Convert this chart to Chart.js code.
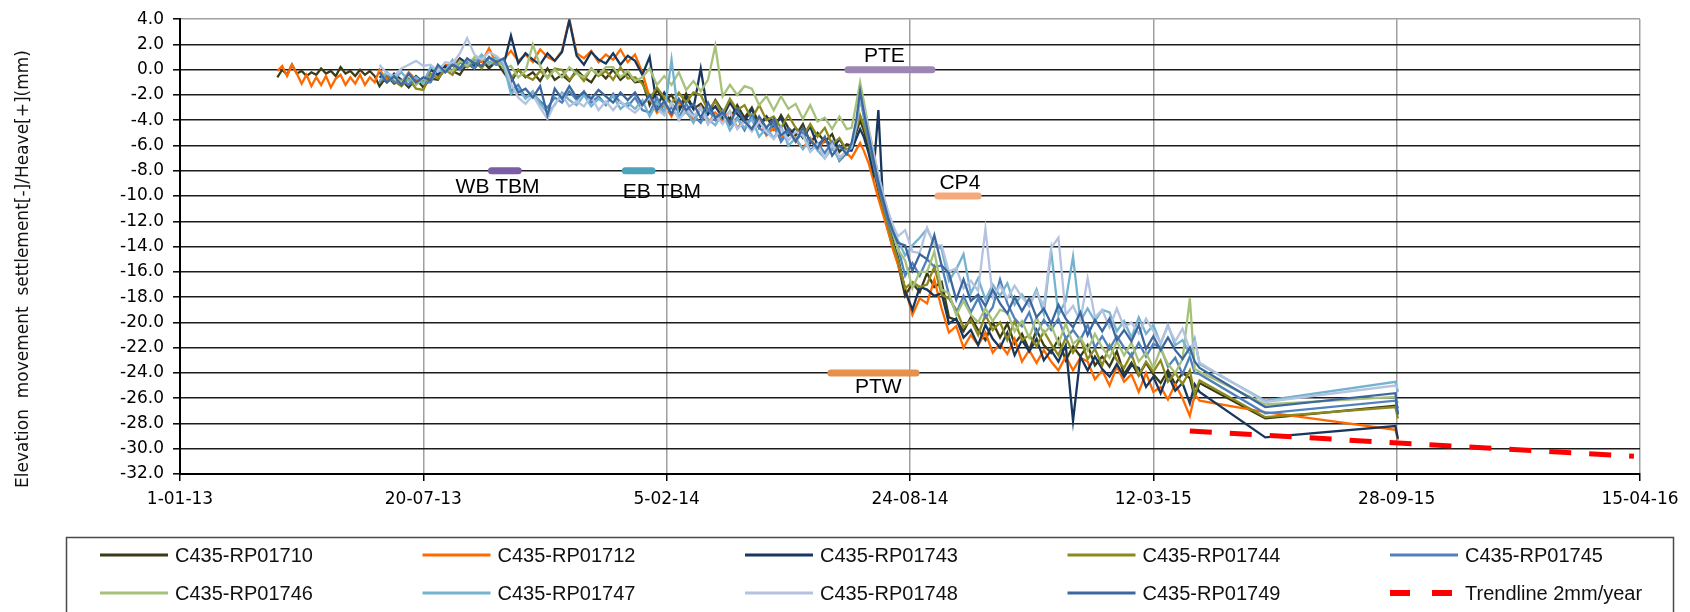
<!DOCTYPE html>
<html>
<head>
<meta charset="utf-8">
<script src="https://cdn.jsdelivr.net/npm/chart.js@4"></script>
<style>
  body { margin: 0; background: #fff; }
  #wrap { width: 1690px; height: 612px; }
</style>
</head>
<body>
<div id="wrap"><canvas id="grafico" width="1690" height="612"></canvas></div>
<script>
// x values are days since 1-01-13
const earlyDays = [80, 84, 88, 92, 96, 100, 104, 108, 112, 116, 120, 124, 128, 132, 136, 140, 144, 148, 152, 156, 160];
const early1710 = [-0.6, 0.0, -0.4, 0.4, -0.3, -0.1, -0.5, -0.2, -0.4, 0.1, -0.3, -0.1, -0.5, 0.2, -0.3, -0.1, -0.5, 0.0, -0.4, -0.1, -0.5];
const early1712 = [-0.1, 0.3, -0.5, 0.4, -0.3, -1.1, -0.4, -1.3, -0.6, -1.2, -0.5, -1.4, -0.7, -0.4, -1.2, -0.6, -1.1, -0.4, -1.2, -0.6, -1.0];

const days = [
  164, 170, 176, 182, 188, 194, 200, 206, 212, 218, 224, 230, 236, 242, 248, 254, 260, 266,
  272, 278, 284, 290, 296, 302, 308, 314, 320, 326, 332, 338, 344, 350, 356, 362, 368, 374, 380,
  386, 392, 398, 404, 410, 416, 422, 428, 434, 440, 446, 452, 458, 464, 470, 476, 482, 488, 494, 500, 506, 512, 518, 524, 530, 536, 542, 548,
  552, 556, 559, 562, 566, 570, 574, 578, 582, 586, 590,
  596, 602, 608, 614, 620, 626, 632, 638, 644, 650, 656, 662, 668, 674, 680, 686, 692, 698, 704, 710, 716, 722, 728, 734, 740, 746, 752, 758, 764, 770, 776, 782, 788, 794, 800, 806, 812, 818, 824, 830, 834, 838,
  892, 999, 1001
];

const v1710 = [
  -1.3, -0.5, -1.1, -0.8, -1.4, -0.7, -1.4, -0.7, -0.8, 0.2, -0.1, -0.4, 0.5, 0.1, 0.8, 0.1, 0.7, -0.2,
  -1.0, 0.0, -0.6, -0.2, -0.9, 0.1, -0.8, -0.4, -0.9, 0.0, -0.6, -1.0, -0.1, -0.7, 0.0, -0.8, -0.3, -1.0, -0.9,
  -2.8, -1.6, -2.5, -2.0, -3.1, -1.9, -3.1, -2.7, -3.5, -2.4, -3.3, -3.9, -2.8, -3.8, -3.0, -4.3, -3.7, -4.7, -3.6, -4.6, -5.2, -4.3, -5.8, -5.0, -5.7, -5.1, -6.5, -5.9,
  -6.0, -4.9, -4.0, -4.8, -6.1, -7.8, -9.6, -11.2, -12.7, -14.1, -15.3,
  -17.9, -16.9, -17.6, -16.1, -17.2, -16.8, -19.6, -19.8, -20.7, -19.6, -20.6, -21.4, -20.0, -21.2, -20.1, -21.7, -20.9, -22.2, -20.6, -21.8, -22.4, -21.3, -23.0, -21.9, -22.7, -21.8, -23.4, -22.7, -23.5, -22.3, -24.1, -23.2, -24.2, -23.2, -24.1, -24.8, -23.8, -24.9, -24.0, -24.4, -25.9, -24.8,
  -27.6, -26.6, -27.2
];
const v1712 = [
  0.0, -0.8, -0.4, -1.0, -0.2, -0.8, -1.0, 0.1, -0.5, 0.4, 0.3, 0.9, 0.3, 0.8, 0.6, 1.7, 0.5, 0.8,
  1.5, 0.7, 1.2, 0.6, 1.6, 1.0, 0.7, 1.5, 4.0, 1.3, 0.9, 1.5, 0.6, 1.2, 0.8, 1.6, 0.6, 1.2, -0.2,
  -2.2, -3.4, -2.8, -3.7, -2.5, -3.4, -3.9, -2.9, -4.3, -3.4, -4.0, -3.3, -4.6, -4.0, -4.7, -3.8, -5.2, -4.6, -5.5, -4.7, -5.6, -6.2, -5.4, -6.3, -5.6, -5.9, -7.2, -6.6,
  -7.0, -6.3, -5.8, -6.4, -7.4, -8.8, -10.2, -11.5, -12.8, -14.2, -15.4,
  -17.3, -19.4, -18.1, -18.5, -16.6, -18.9, -20.8, -20.3, -22.0, -21.0, -21.8, -20.8, -22.4, -21.7, -22.5, -21.3, -23.1, -22.2, -23.2, -22.2, -23.1, -23.8, -22.7, -23.8, -22.8, -23.1, -24.5, -23.8, -25.0, -23.5, -24.7, -24.1, -25.5, -24.0, -25.5, -25.1, -26.1, -24.9, -26.0, -27.4, -25.7, -26.2,
  -27.1, -28.5, -29.3
];
const v1743 = [
  -0.5, -1.0, -0.3, -0.8, -1.2, -0.5, -1.0, 0.0, -0.4, 0.3, -0.1, 0.9, 0.5, 0.3, 1.1, 0.3, 1.0, 0.4,
  2.7, 0.5, 1.3, 0.8, 0.4, 1.3, 0.7, 1.4, 3.9, 1.1, 0.4, 1.4, 0.8, 0.5, 1.3, 0.4, 1.1, 0.7, -0.4,
  1.0, -2.9, -1.8, -2.7, -3.3, -2.2, -3.1, 0.1, -3.5, -2.9, -3.8, -2.6, -3.5, -4.1, -3.1, -4.6, -3.7, -4.4, -3.8, -5.2, -4.6, -5.4, -4.5, -6.0, -5.4, -6.3, -5.5, -6.4,
  -6.4, -5.4, -4.7, -5.3, -6.6, -8.2, -3.2, -10.8, -12.2, -13.6, -14.8,
  -17.5, -19.0, -17.2, -17.4, -17.9, -17.7, -20.1, -19.7, -21.2, -20.6, -21.8, -20.2, -21.3, -22.0, -20.8, -22.6, -21.4, -22.3, -21.3, -23.0, -22.2, -23.1, -21.8, -27.8, -22.7, -23.8, -22.7, -23.7, -24.3, -23.3, -24.3, -23.4, -23.6, -25.1, -24.3, -25.6, -24.1, -25.4, -24.8, -26.4, -24.9, -25.5,
  -29.1, -28.2, -29.2
];
const v1744 = [
  -1.0, -0.5, -0.9, -1.3, -0.7, -1.5, -1.6, -0.3, -0.7, 0.0, -0.4, 0.6, 0.2, 0.7, 0.1, 1.0, 0.4, 0.4,
  -0.7, 0.0, -0.5, -0.8, -0.1, -0.6, 0.1, 0.0, -0.8, -0.2, -0.9, 0.1, -0.5, -0.1, -0.8, 0.2, -0.7, -0.6, -1.1,
  -2.3, -1.4, -2.2, -2.7, -1.8, -2.6, -1.8, -2.0, -3.2, -2.5, -3.5, -2.3, -3.2, -2.8, -3.9, -2.8, -4.0, -3.7, -4.6, -3.6, -4.6, -5.3, -4.3, -5.3, -4.6, -5.9, -5.4, -6.4,
  -5.9, -4.6, -3.6, -4.4, -5.8, -7.5, -9.3, -10.9, -12.4, -13.8, -15.0,
  -17.3, -16.8, -17.2, -17.0, -15.6, -17.8, -18.1, -19.0, -20.4, -19.8, -21.0, -19.4, -20.6, -20.0, -21.4, -19.9, -21.4, -21.0, -21.9, -20.7, -21.7, -22.6, -21.2, -22.4, -21.3, -22.9, -22.1, -23.4, -21.8, -23.0, -23.6, -22.5, -24.2, -23.1, -23.9, -23.0, -24.7, -24.0, -24.9, -23.8, -25.7, -24.6,
  -27.5, -26.7, -27.6
];
const v1745 = [
  -1.0, -0.3, -1.0, -0.8, -1.2, -0.6, -1.0, -1.0, 0.1, -0.2, 0.6, 0.0, 0.6, 0.1, 1.1, 0.6, 0.4, 0.8,
  -1.7, -1.2, -2.2, -1.9, -2.5, -3.0, -2.2, -2.6, -1.7, -2.4, -1.7, -2.6, -2.1, -2.8, -1.9, -2.6, -2.9, -2.2, -3.2,
  -3.4, -2.2, -3.4, -3.0, -3.8, -2.7, -3.6, -4.2, -3.1, -4.0, -3.2, -4.4, -3.8, -4.8, -3.6, -4.6, -5.1, -4.2, -5.7, -4.9, -5.6, -5.0, -6.4, -5.8, -6.6, -5.7, -7.2, -6.6,
  -6.1, -4.3, -2.2, -3.7, -5.6, -7.4, -9.2, -10.6, -12.0, -13.1, -14.0,
  -16.3, -15.3, -16.3, -15.0, -15.6, -15.5, -17.8, -19.3, -17.9, -19.2, -18.1, -19.6, -18.8, -16.6, -18.5, -19.7, -20.3, -19.2, -20.9, -19.8, -20.6, -19.7, -21.3, -20.6, -21.4, -20.2, -22.0, -21.1, -22.1, -21.1, -22.0, -22.7, -21.6, -22.7, -21.7, -22.0, -23.5, -22.8, -24.1, -22.7, -24.0, -24.1,
  -27.2, -26.2, -26.8
];
const v1746 = [
  -0.1, -1.0, -0.5, -1.0, -0.3, -1.2, -0.7, -0.7, 0.2, 0.0, -0.1, 0.7, 0.3, 1.0, 1.0, 0.4, 0.9, 0.1,
  0.3, -0.6, -0.1, 2.0, 0.3, -0.7, 0.0, -0.6, 0.2, -0.3, -0.6, 0.1, -0.4, 0.2, 0.2, -0.6, -0.1, -0.9, -0.6,
  0.1, -1.2, -0.5, -1.2, -0.2, -1.6, -0.9, -1.7, -0.8, 1.9, -2.1, -1.2, -2.0, -1.3, -1.5, -2.8, -2.1, -3.2, -2.1, -3.1, -2.7, -3.9, -2.8, -4.1, -3.8, -4.7, -3.7, -4.7,
  -4.6, -2.6, -1.0, -2.5, -4.6, -6.5, -8.4, -10.0, -11.5, -12.9, -14.2,
  -15.1, -17.3, -16.0, -16.0, -14.4, -17.4, -17.7, -19.4, -18.3, -19.4, -20.0, -18.9, -19.9, -19.0, -19.2, -20.7, -19.9, -21.2, -19.6, -20.9, -20.2, -21.7, -20.1, -21.7, -21.2, -22.2, -20.9, -22.0, -22.8, -21.5, -22.6, -21.6, -23.1, -22.4, -23.6, -22.1, -23.3, -24.0, -22.9, -18.1, -23.7, -23.9,
  -26.5, -25.9, -26.4
];
const v1747 = [
  -0.9, -0.2, -0.7, -0.2, -0.9, -0.6, -1.1, 0.2, -0.1, -0.1, 0.8, 0.1, 0.8, 0.6, 1.2, 0.5, 1.0, 0.4,
  -1.9, -1.5, -2.3, -1.7, -2.7, -3.4, -2.8, -1.8, -2.4, -2.8, -2.0, -2.9, -2.3, -2.7, -2.1, -3.1, -2.6, -3.1, -2.4,
  -3.7, -2.6, -3.5, 0.8, -3.9, -3.3, -4.2, -3.0, -3.9, -4.4, -3.4, -4.8, -3.9, -4.6, -3.9, -5.3, -4.6, -5.4, -4.5, -6.0, -5.4, -6.3, -5.5, -6.4, -7.0, -6.2, -7.1, -6.4,
  -6.2, -4.4, -2.3, -3.5, -5.3, -7.0, -8.7, -10.1, -11.5, -12.6, -13.5,
  -14.7, -13.9, -13.3, -12.6, -13.8, -14.2, -16.7, -15.8, -14.6, -17.7, -16.5, -18.2, -17.0, -17.9, -16.9, -18.6, -17.8, -18.7, -17.4, -19.3, -14.3, -19.4, -18.3, -14.8, -19.9, -18.9, -19.9, -19.0, -19.2, -20.7, -19.9, -21.2, -19.6, -20.9, -20.2, -21.7, -20.2, -21.8, -21.4, -22.5, -21.3, -23.3,
  -26.2, -24.7, -25.5
];
const v1748 = [
  0.4, -0.3, -0.5, 0.1, 0.4, 0.7, 0.3, 0.4, -0.1, 0.6, 0.5, 1.3, 2.5, 1.2, 0.8, 1.4, 1.1, 0.6,
  -1.1, -2.2, -2.7, -2.0, -3.0, -3.9, -2.7, -2.0, -2.9, -2.5, -2.9, -2.1, -3.2, -2.5, -3.2, -2.5, -3.0, -3.4, -2.8,
  -2.2, -3.1, -3.6, -2.6, -4.0, -3.1, -3.7, -3.0, -4.3, -3.6, -4.3, -3.3, -4.7, -4.1, -4.9, -4.1, -4.9, -5.5, -4.7, -5.6, -4.9, -5.2, -6.5, -5.9, -7.0, -5.9, -6.9, -6.5,
  -6.0, -4.2, -2.0, -3.0, -4.8, -6.6, -8.3, -9.8, -11.2, -12.3, -13.2,
  -12.7, -14.4, -14.5, -12.5, -13.9, -13.9, -16.0, -15.7, -17.3, -16.7, -17.5, -12.6, -18.0, -17.1, -18.1, -17.1, -18.0, -18.7, -17.6, -18.7, -14.1, -13.3, -19.4, -18.7, -19.9, -16.5, -19.6, -19.0, -20.4, -18.9, -20.4, -20.0, -20.9, -19.7, -20.7, -21.6, -20.3, -21.5, -20.5, -22.2, -21.5, -23.2,
  -26.3, -25.0, -25.2
];
const v1749 = [
  -0.2, -1.0, -0.5, -1.2, -0.3, -1.0, -0.6, -0.8, 0.4, -0.2, 0.4, 0.1, 0.9, 0.5, 0.3, 1.0, 0.6, 0.9,
  -0.5, -1.8, -1.5, -2.2, -1.3, -3.6, -1.5, -2.3, -1.3, -2.2, -1.8, -2.3, -1.6, -2.1, -2.6, -1.8, -2.4, -1.8, -2.8,
  -2.0, -3.2, -2.5, -3.5, -2.3, -3.2, -2.7, -3.8, -2.6, -3.8, -3.4, -4.2, -3.1, -4.1, -4.7, -3.7, -4.6, -3.9, -5.2, -4.7, -5.7, -4.6, -5.6, -6.2, -5.3, -6.8, -6.0, -6.7,
  -5.8, -3.9, -1.7, -3.3, -5.2, -7.1, -8.9, -10.3, -11.7, -12.8, -13.7,
  -13.9, -15.9, -14.6, -15.0, -13.1, -15.5, -16.1, -18.2, -16.6, -18.3, -17.8, -18.7, -17.4, -18.5, -19.3, -18.0, -19.1, -18.1, -19.6, -18.9, -20.1, -18.6, -19.7, -20.4, -19.2, -21.0, -19.8, -20.7, -19.7, -21.4, -20.6, -21.5, -20.2, -22.1, -21.1, -22.2, -21.2, -22.2, -22.9, -22.0, -23.1, -23.6,
  -26.7, -25.6, -27.3
];

const seriesNames = ["C435-RP01710", "C435-RP01712", "C435-RP01743", "C435-RP01744", "C435-RP01745",
  "C435-RP01746", "C435-RP01747", "C435-RP01748", "C435-RP01749"];
const seriesValues = [v1710, v1712, v1743, v1744, v1745, v1746, v1747, v1748, v1749];
const seriesEarly = [early1710, early1712, null, null, null, null, null, null, null];

const trendName = "Trendline 2mm/year";
const trendDays = [830, 1195];
const trendValues = [-28.6, -30.6];

const markerNames = ["PTE", "WB TBM", "EB TBM", "CP4", "PTW"];
const markerStart = [549, 256, 366, 623, 535];
const markerEnd = [618, 278, 388, 656, 605];
const markerLevel = [0, -8, -8, -10, -24];

const yTicks = { min: -32, max: 4, step: 2 };
const xTicks = { min: 0, max: 1200, step: 200 };
const yTitle = "Elevation  movement  settlement[-]/Heave[+](mm)";

// styles
const seriesColors = ["#3b3b16", "#ff6a00", "#17375e", "#8c8a1e", "#4f81bd",
  "#a6c27a", "#74b3cf", "#b4c3df", "#3d689f"];
const markerStyle = [
  { color: "#9b86b4", labelDay: 579, dy: -14 },
  { color: "#7b5ea3", labelDay: 261, dy: 16 },
  { color: "#4ba4b9", labelDay: 396, dy: 21 },
  { color: "#f5aa7c", labelDay: 641, dy: -13 },
  { color: "#e5904c", labelDay: 574, dy: 14 }
];

const punti = (xs, ys) => ys.map((y, i) => ({ x: xs[i], y: y }));

const datasets = seriesNames.map((nome, i) => {
  let data = punti(days, seriesValues[i]);
  if (seriesEarly[i]) data = punti(earlyDays, seriesEarly[i]).concat(data);
  return {
    label: nome,
    data: data,
    borderColor: seriesColors[i],
    borderWidth: 2.3,
    pointRadius: 0,
    order: 20 - i,
    inBox: true,
    boxWidth: 3
  };
});

datasets.push({
  label: trendName,
  data: punti(trendDays, trendValues),
  borderColor: "#ff0000",
  borderWidth: 5,
  borderDash: [22, 18],
  pointRadius: 0,
  order: 1,
  inBox: true,
  boxWidth: 6,
  boxDash: [20, 22]
});

markerNames.forEach((nome, i) => {
  datasets.push({
    label: nome,
    data: punti([markerStart[i], markerEnd[i]], [markerLevel[i], markerLevel[i]]),
    borderColor: markerStyle[i].color,
    borderWidth: 7,
    borderCapStyle: "round",
    pointRadius: 0,
    order: 0,
    marker: markerStyle[i]
  });
});

const etichetteMarker = {
  id: "etichetteMarker",
  afterDatasetsDraw(chart) {
    const ctx = chart.ctx;
    const xs = chart.scales.x, ys = chart.scales.y;
    ctx.save();
    ctx.font = '21px "Liberation Sans", Arial, sans-serif';
    ctx.fillStyle = "#000";
    ctx.textAlign = "center";
    ctx.textBaseline = "middle";
    chart.data.datasets.forEach((d) => {
      if (!d.marker) return;
      const x = xs.getPixelForValue(d.marker.labelDay);
      const y = ys.getPixelForValue(d.data[0].y) + d.marker.dy;
      ctx.fillText(d.label, x, y);
    });
    ctx.restore();
  }
};

const titoloAsse = {
  id: "titoloAsse",
  afterDraw(chart) {
    const ctx = chart.ctx;
    ctx.save();
    ctx.translate(24, 269);
    ctx.rotate(-Math.PI / 2);
    ctx.font = "17px 'DejaVu Sans', Verdana, sans-serif";
    ctx.fillStyle = "#111";
    ctx.textAlign = "center";
    ctx.textBaseline = "middle";
    ctx.fillText(yTitle, 0, 0);
    ctx.restore();
  }
};

const legendaBox = {
  id: "legendaBox",
  afterDraw(chart) {
    const ctx = chart.ctx;
    ctx.save();
    ctx.strokeStyle = "#4a4a4a";
    ctx.lineWidth = 1.5;
    ctx.strokeRect(66.5, 537.5, 1607, 90);
    const voci = chart.data.datasets.filter((d) => d.inBox);
    voci.forEach((d, i) => {
      const x = 100 + (i % 5) * 322.5;
      const y = i < 5 ? 555 : 593;
      ctx.beginPath();
      ctx.setLineDash(d.boxDash || []);
      ctx.lineWidth = d.boxWidth;
      ctx.strokeStyle = d.borderColor;
      ctx.moveTo(x, y);
      ctx.lineTo(x + 68, y);
      ctx.stroke();
      ctx.setLineDash([]);
      ctx.fillStyle = "#111";
      ctx.font = '20px "Liberation Sans", Arial, sans-serif';
      ctx.textAlign = "left";
      ctx.textBaseline = "middle";
      ctx.fillText(d.label, x + 75, y + 1);
    });
    ctx.restore();
  }
};

const formatData = (v) => {
  const d = new Date(Date.UTC(2013, 0, 1) + v * 86400000);
  const mm = String(d.getUTCMonth() + 1).padStart(2, "0");
  const yy = String(d.getUTCFullYear()).slice(2);
  return d.getUTCDate() + "-" + mm + "-" + yy;
};

const fontTick = { family: "'DejaVu Sans', Verdana, sans-serif", size: 17 };

const grafico = new Chart(document.getElementById("grafico"), {
  type: "line",
  data: { datasets: datasets },
  plugins: [etichetteMarker, titoloAsse, legendaBox],
  options: {
    responsive: false,
    animation: false,
    devicePixelRatio: 1,
    layout: { padding: { top: 17, right: 50, bottom: 0, left: 0 } },
    plugins: { legend: { display: false }, tooltip: { enabled: false } },
    scales: {
      x: {
        type: "linear",
        min: xTicks.min,
        max: xTicks.max,
        afterFit: (s) => { s.height = 138; },
        ticks: {
          stepSize: xTicks.step,
          autoSkip: false,
          maxRotation: 0,
          padding: 8,
          color: "#000",
          font: fontTick,
          callback: (v) => formatData(v)
        },
        grid: { color: "#a0a0a0", lineWidth: 1.5, tickColor: "#000", tickLength: 7, tickWidth: 1.5 },
        border: { color: "#000", width: 2 }
      },
      y: {
        min: yTicks.min,
        max: yTicks.max,
        afterFit: (s) => { s.width = 180; },
        ticks: {
          stepSize: yTicks.step,
          padding: 9,
          color: "#000",
          font: fontTick,
          callback: (v) => v.toFixed(1)
        },
        grid: {
          color: (c) => (c.tick && c.tick.value === yTicks.max ? "#a0a0a0" : "#1c1c1c"),
          lineWidth: 1.6,
          tickColor: "#000",
          tickLength: 7,
          tickWidth: 1.5
        },
        border: { color: "#000", width: 2 }
      }
    }
  }
});
</script>
</body>
</html>
